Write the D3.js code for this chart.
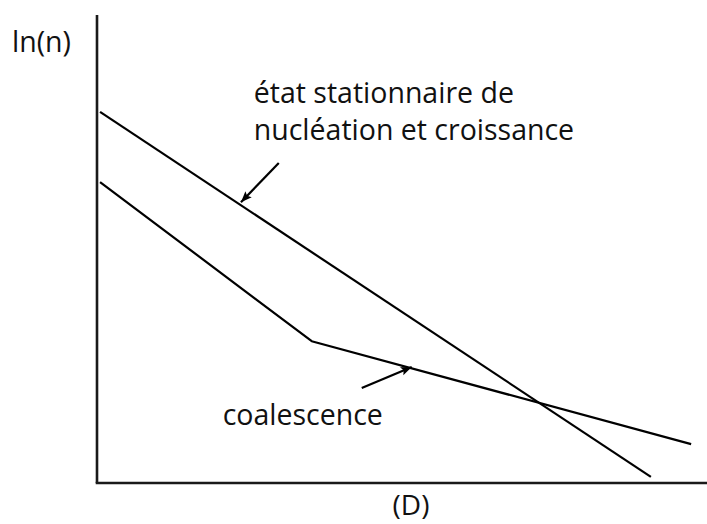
<!DOCTYPE html>
<html>
<head>
<meta charset="utf-8">
<script src="https://cdn.jsdelivr.net/npm/d3@7"></script>
<style>
  html, body { margin: 0; padding: 0; background: #fff; }
  svg { display: block; font-family: "Open Sans", "Noto Sans", sans-serif; }
</style>
</head>
<body>
<svg id="chart" width="707" height="524"></svg>
<script>
// Schematic crystal size distribution: ln(n) versus size D
const steadyState = [ { d: 0.05, v: 7.93 }, { d: 9.08, v: 0.13 } ];
const coalescence = [ { d: 0.05, v: 6.43 }, { d: 3.52, v: 3.03 }, { d: 9.74, v: 0.83 } ];
const arrows = [
  { from: { d: 2.98, v: 6.84 }, to: { d: 2.36, v: 6.00 } },
  { from: { d: 4.34, v: 2.03 }, to: { d: 5.16, v: 2.48 } }
];
const labels = [
  { lines: ["état stationnaire de", "nucléation et croissance"], d: 2.57, v: 8.12 },
  { lines: ["coalescence"], d: 2.06, v: 1.24 }
];
const axisLabels = { y: "ln(n)", x: "(D)" };

const svg = d3.select("#chart");
const x = d3.scaleLinear().domain([0, 10]).range([97, 707]);
const y = d3.scaleLinear().domain([0, 10]).range([483, 15]);

svg.append("defs").append("marker")
  .attr("id", "head")
  .attr("viewBox", "0 0 10 10")
  .attr("refX", 10).attr("refY", 5)
  .attr("markerWidth", 11).attr("markerHeight", 11)
  .attr("markerUnits", "userSpaceOnUse")
  .attr("orient", "auto")
  .append("path").attr("d", "M0,1 L10,5 L0,9 L2,5 Z").attr("fill", "#000");

// axes
svg.append("line")
  .attr("x1", x(0)).attr("y1", y(10)).attr("x2", x(0)).attr("y2", y(0))
  .attr("stroke", "#1a1a1a").attr("stroke-width", 2.6);
svg.append("line")
  .attr("x1", x(0) - 1.3).attr("y1", y(0)).attr("x2", x(10)).attr("y2", y(0))
  .attr("stroke", "#1a1a1a").attr("stroke-width", 2.6);

const line = d3.line().x(p => x(p.d)).y(p => y(p.v));
[steadyState, coalescence].forEach(s => {
  svg.append("path").attr("d", line(s))
    .attr("fill", "none").attr("stroke", "#000")
    .attr("stroke-width", 2.2).attr("stroke-linejoin", "round");
});

arrows.forEach(a => {
  svg.append("line")
    .attr("x1", x(a.from.d)).attr("y1", y(a.from.v))
    .attr("x2", x(a.to.d)).attr("y2", y(a.to.v))
    .attr("stroke", "#000").attr("stroke-width", 2.2)
    .attr("marker-end", "url(#head)");
});

labels.forEach(l => {
  const t = svg.append("text")
    .attr("x", x(l.d)).attr("y", y(l.v))
    .attr("font-size", 28.5).attr("fill", "#111");
  l.lines.forEach((s, i) => {
    t.append("tspan").attr("x", x(l.d)).attr("dy", i === 0 ? 0 : 37).text(s);
  });
});

svg.append("text").attr("x", 12).attr("y", 52)
  .attr("font-size", 28.5).attr("fill", "#111").text(axisLabels.y);
svg.append("text").attr("x", 411).attr("y", 515)
  .attr("text-anchor", "middle")
  .attr("font-size", 28).attr("fill", "#111").text(axisLabels.x);
</script>
</body>
</html>
